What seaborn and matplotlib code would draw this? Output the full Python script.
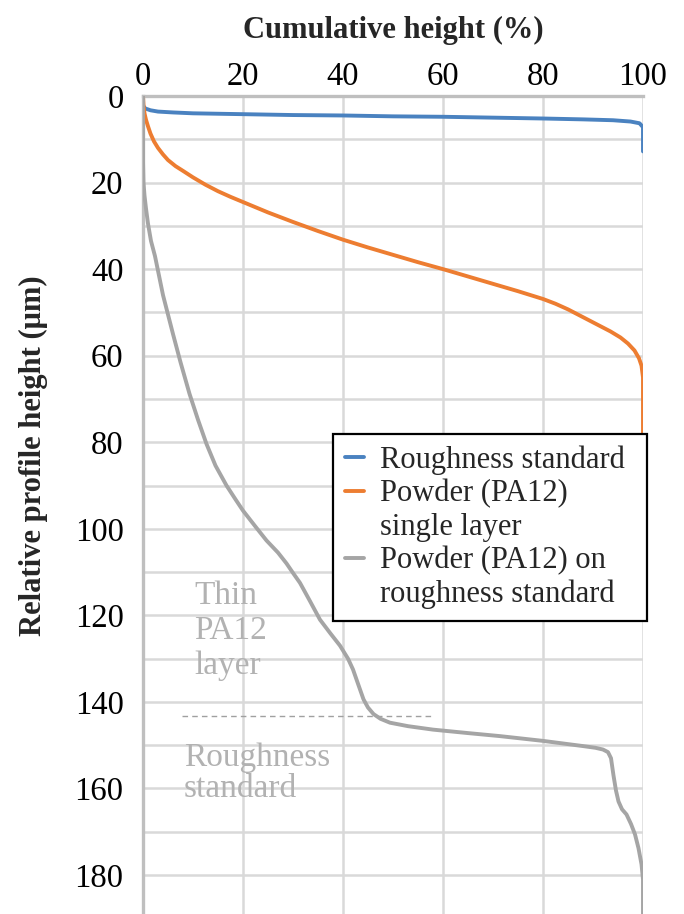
import matplotlib
matplotlib.use("Agg")
import matplotlib.pyplot as plt
import seaborn as sns
import pandas as pd
from matplotlib.lines import Line2D

# Cumulative height (%) vs. relative profile depth (µm) for each measurement
rough_x = [0, 0, 0.5, 1.5, 3, 6, 10, 20, 30, 40, 50, 60, 70, 80, 88, 94, 97.5, 99.3, 100, 100]
rough_y = [0, 2.3, 2.9, 3.3, 3.6, 3.8, 4.0, 4.2, 4.4, 4.5, 4.7, 4.8, 5.0, 5.2, 5.4, 5.6, 5.9, 6.3, 7.2, 12.8]

single_x = [0, 0.1, 0.3, 0.6, 1, 1.5, 2.2, 3, 4, 5, 6.5, 8, 10, 12.5, 15, 17.5, 20, 25, 30,
            35, 40, 45, 50, 55, 60, 65, 70, 75, 80, 82.5, 85, 88, 91, 93.5, 95.5, 97, 98.3,
            99.2, 99.7, 100, 100]
single_y = [0, 2, 4, 5.5, 7, 8.7, 10.5, 12, 13.5, 14.8, 16.2, 17.3, 18.8, 20.5, 22, 23.3, 24.5,
            26.9, 29.1, 31.2, 33.2, 35.0, 36.7, 38.4, 40.0, 41.7, 43.4, 45.1, 46.9, 48.0, 49.3,
            51.1, 52.9, 54.4, 55.8, 57.2, 58.8, 60.6, 62.3, 65, 79]

onstd_x = [0, 0, 0.1, 0.3, 0.6, 1, 1.6, 2.4, 3.2, 4, 5, 6, 7.5, 9.3, 11, 12.7, 14.5, 16.7, 18.5,
           20, 22.5, 24.7, 27, 28.7, 30, 31.4, 33.3, 35.4, 37.5, 39.4, 41, 42, 43, 44.1, 45,
           46.1, 47.5, 49.4, 53, 58, 65, 71.4, 80, 88, 90.5, 92, 93, 93.6, 94.1, 94.6, 95.1,
           95.8, 96.7, 97.6, 98.4, 99.1, 99.7, 100, 100]
onstd_y = [0, 15, 20, 23, 26, 29.5, 33.5, 37, 41.5, 46, 50.5, 55, 61.5, 68.8, 74.8, 80.4, 85.4,
           90, 93.2, 95.8, 99.5, 102.7, 105.5, 108, 110.2, 112.5, 116.5, 121, 124.2, 127, 130,
           132.5, 135.8, 139.4, 141.3, 142.8, 143.9, 144.8, 145.6, 146.4, 147.2, 147.9, 149,
           150.2, 150.6, 151, 151.6, 153, 157, 160.5, 163, 164.8, 166, 168.2, 170.6, 173.8,
           177.5, 181, 190]

series_labels = ["Roughness standard",
                 "Powder (PA12)\nsingle layer",
                 "Powder (PA12) on\nroughness standard"]
series_colors = ["#4A82C0", "#ED7D31", "#A5A5A5"]

# Boundary between the thin powder layer and the roughness standard
boundary_depth = 143.2
boundary_span = [7.8, 57.8]
region_labels = ["Thin\nPA12\nlayer", "Roughness\nstandard"]
region_pos = [(10.2, 123.6), (8.2, 156.5)]
region_spacing = [1.2, 1.02]

x_ticks = [0, 20, 40, 60, 80, 100]
y_ticks = [0, 20, 40, 60, 80, 100, 120, 140, 160, 180]

sns.set_theme(style="white")
plt.rcParams["font.family"] = "serif"
plt.rcParams["font.serif"] = ["Liberation Serif", "Times New Roman", "Nimbus Roman",
                              "DejaVu Serif"]

fig = plt.figure(figsize=(6.84, 9.14), dpi=100)
ax = fig.add_axes([143 / 684, 0.0, 500 / 684, 818 / 914])

data = [(rough_x, rough_y), (single_x, single_y), (onstd_x, onstd_y)]
for (xs, ys), lab, col in zip(data, series_labels, series_colors):
    df = pd.DataFrame({"cum": xs, "depth": ys})
    sns.lineplot(data=df, x="cum", y="depth", sort=False, estimator=None,
                 color=col, linewidth=2.8, ax=ax, label=lab, zorder=3)

ax.plot(boundary_span, [boundary_depth, boundary_depth], color="#A0A0A0",
        linestyle=(0, (4, 3)), linewidth=1.0, zorder=2)
for txt, (tx, ty), ls in zip(region_labels, region_pos, region_spacing):
    ax.text(tx, ty, txt, color="#B2B2B2", fontsize=24, ha="left", va="center",
            linespacing=ls, zorder=2)

ax.set_xlim(0, 100)
ax.set_ylim(189, 0)
ax.set_xticks(x_ticks)
ax.set_yticks(y_ticks)
ax.set_yticks(range(10, 190, 20), minor=True)
ax.xaxis.tick_top()
ax.xaxis.set_label_position("top")
ax.tick_params(axis="both", which="both", length=0, labelsize=23.5, colors="black")
ax.tick_params(axis="x", pad=3)
ax.tick_params(axis="y", pad=14)
ax.grid(True, which="both", color="#D9D9D9", linewidth=1.8)
ax.set_axisbelow(True)

for side in ["bottom", "right"]:
    ax.spines[side].set_visible(False)
for side in ["left", "top"]:
    ax.spines[side].set_color("#BFBFBF")
    ax.spines[side].set_linewidth(2.4)

ax.set_xlabel("Cumulative height (%)", fontsize=22, fontweight="bold", labelpad=17)
ax.set_ylabel("Relative profile height (\u03bcm)", fontsize=22, fontweight="bold")
ax.yaxis.set_label_coords(-0.19, 0.56)

# Legend rows: the line key sits beside the first line of each wrapped label
handles, rows = [], []
for lab, col in zip(series_labels, series_colors):
    for i, part in enumerate(lab.split("\n")):
        handles.append(Line2D([], [], color=col if i == 0 else "none", linewidth=2.8))
        rows.append(part)

leg = ax.legend(handles, rows, loc="upper left", mode="expand",
                bbox_to_anchor=(333 / 684, 1 - 434 / 914, 314 / 684, 0),
                bbox_transform=fig.transFigure,
                fontsize=22, frameon=True, fancybox=False, framealpha=1,
                handlelength=0.65, handletextpad=0.52, borderpad=0.38,
                labelspacing=0.14, borderaxespad=0)
leg.get_frame().set_edgecolor("black")
leg.get_frame().set_linewidth(1.6)
leg.set_zorder(5)

fig.savefig("out.png", dpi=100)
